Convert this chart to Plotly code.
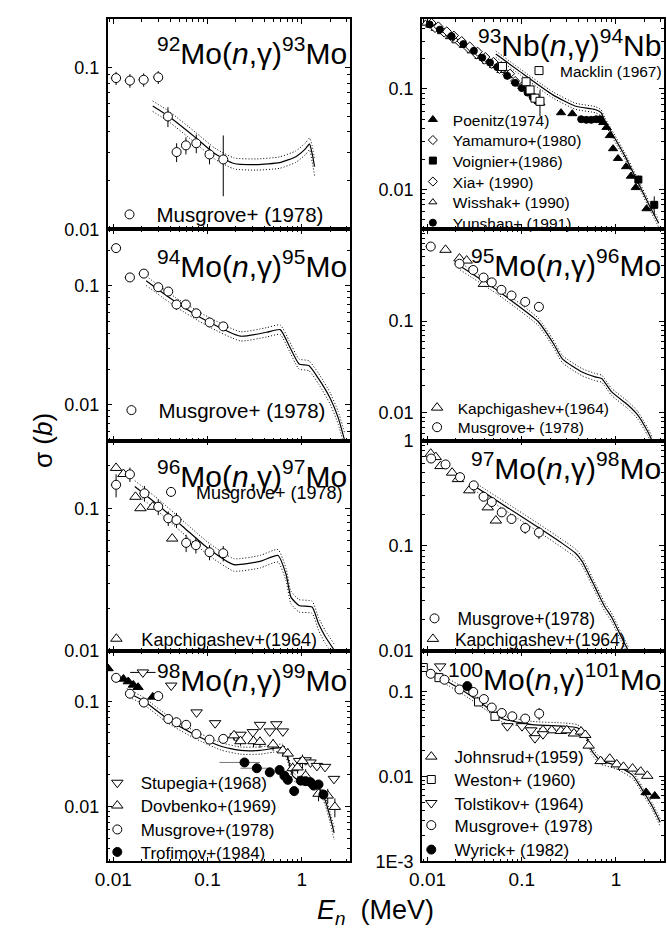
import math
import plotly.graph_objects as go

FIG_W, FIG_H = 667, 940
FONT = "Liberation Sans, Arial, Helvetica, sans-serif"

# ===================== DATA =====================
# ---- 92Mo(n,g)93Mo ----
mo92_mus_x = [0.0107, 0.015, 0.021, 0.030, 0.038, 0.047, 0.059, 0.076, 0.105, 0.147]
mo92_mus_y = [0.086, 0.083, 0.084, 0.087, 0.0498, 0.030, 0.033, 0.034, 0.029, 0.027]
mo92_mus_ey = [0.008, 0.008, 0.008, 0.008, 0.007, 0.004, 0.004, 0.0045, 0.0038, 0.011]
mo92_mus_ex = [0.0013, 0.0018, 0.0025, 0.0035, 0, 0, 0, 0, 0, 0]
mo92_calc_x = [0.0262, 0.0383, 0.0736, 0.119, 0.191, 0.333, 0.582, 0.867, 1.10, 1.21, 1.29, 1.37]
mo92_calc_y = [0.0578, 0.0501, 0.0371, 0.0294, 0.0255, 0.0251, 0.0258, 0.0281, 0.0315, 0.0337, 0.0294, 0.0244]
mo92_calc_hi = [0.062, 0.054, 0.040, 0.0318, 0.0276, 0.0272, 0.0280, 0.0305, 0.0342, 0.0366, 0.0330, 0.0270]
mo92_calc_lo = [0.0535, 0.0465, 0.0343, 0.0272, 0.0236, 0.0232, 0.0238, 0.0259, 0.0290, 0.0310, 0.0262, 0.0215]

# ---- 94Mo(n,g)95Mo ----
mo94_mus_x = [0.0107, 0.015, 0.0211, 0.030, 0.0383, 0.0468, 0.0589, 0.076, 0.1054, 0.147]
mo94_mus_y = [0.208, 0.118, 0.127, 0.0976, 0.0898, 0.0698, 0.0698, 0.0589, 0.0493, 0.0457]
mo94_mus_ey = [0.017, 0.010, 0.010, 0.008, 0.007, 0.007, 0.006, 0.005, 0.004, 0.004]
mo94_mus_ex = [0.0013, 0.0018, 0.0025, 0.0035, 0, 0, 0, 0, 0, 0]
mo94_calc_x = [0.0223, 0.0457, 0.101, 0.224, 0.424, 0.591, 0.738, 0.937, 1.19, 1.51, 2.0, 2.44, 2.86]
mo94_calc_y = [0.1106, 0.0734, 0.0502, 0.0378, 0.0408, 0.0429, 0.0313, 0.0221, 0.0214, 0.0166, 0.0114, 0.0078, 0.005]
mo94_calc_hi = [0.121, 0.080, 0.055, 0.0412, 0.0446, 0.0470, 0.0345, 0.0243, 0.0235, 0.0184, 0.0127, 0.0088, 0.0058]
mo94_calc_lo = [0.101, 0.067, 0.0458, 0.0345, 0.0372, 0.0391, 0.0284, 0.0200, 0.0194, 0.0150, 0.0102, 0.0069, 0.0044]

# ---- 96Mo(n,g)97Mo ----
mo96_mus_x = [0.0107, 0.015, 0.0214, 0.030, 0.0383, 0.0468, 0.0593, 0.0753, 0.105, 0.147]
mo96_mus_y = [0.147, 0.174, 0.128, 0.103, 0.0855, 0.0832, 0.0575, 0.0554, 0.0494, 0.0486]
mo96_mus_ey = [0.027, 0.020, 0.016, 0.013, 0.010, 0.010, 0.008, 0.007, 0.006, 0.006]
mo96_mus_ex = [0.0013, 0.0018, 0.0025, 0.0035, 0, 0, 0, 0, 0, 0]
mo96_kap_x = [0.0107, 0.0128, 0.0172, 0.0194, 0.0262, 0.0422]
mo96_kap_y = [0.193, 0.175, 0.121, 0.1006, 0.103, 0.0616]
mo96_calc_x = [0.0169, 0.0307, 0.058, 0.101, 0.191, 0.361, 0.56, 0.683, 0.769, 0.938, 1.29, 1.51, 1.77, 2.25]
mo96_calc_y = [0.143, 0.1044, 0.0723, 0.0527, 0.0404, 0.0426, 0.0469, 0.0345, 0.0239, 0.0209, 0.0204, 0.0156, 0.0127, 0.0100]
mo96_calc_hi = [0.157, 0.115, 0.0795, 0.058, 0.0445, 0.0469, 0.0516, 0.038, 0.0263, 0.023, 0.0224, 0.0172, 0.014, 0.011]
mo96_calc_lo = [0.129, 0.094, 0.065, 0.0474, 0.0364, 0.0383, 0.0422, 0.031, 0.0215, 0.0188, 0.0184, 0.014, 0.0114, 0.009]

# ---- 98Mo(n,g)99Mo ----
mo98_mus_x = [0.0107, 0.015, 0.0211, 0.030, 0.0383, 0.0468, 0.0593, 0.0762, 0.105, 0.147]
mo98_mus_y = [0.167, 0.118, 0.0972, 0.112, 0.0679, 0.0632, 0.0597, 0.0489, 0.0432, 0.0439]
mo98_mus_ey = [0.012, 0.009, 0.009, 0.008, 0.006, 0.005, 0.005, 0.004, 0.004, 0.004]
mo98_tri_x = [0.0088, 0.0128, 0.0144, 0.0163, 0.0183, 0.0262]
mo98_tri_y = [0.205, 0.163, 0.154, 0.143, 0.136, 0.110]
mo98_stu_x = [0.0206, 0.0412, 0.0766, 0.1205, 0.199, 0.224, 0.303, 0.361, 0.458, 0.538, 0.631,
              0.938, 1.10, 1.24, 1.45, 1.77, 2.2]
mo98_stu_y = [0.188, 0.141, 0.0784, 0.0619, 0.0464, 0.0481, 0.0509, 0.0597, 0.0517, 0.0605, 0.0517,
              0.0271, 0.0275, 0.0262, 0.0243, 0.0238, 0.0183]
mo98_stu_exp = [0.0075, 0.005, 0, 0, 0, 0, 0, 0, 0, 0, 0, 0, 0, 0, 0, 0, 0]
mo98_stu_exm = [0.0055, 0.004, 0, 0, 0, 0, 0, 0, 0, 0, 0, 0, 0, 0, 0, 0, 0]
mo98_dov_x = [0.191, 0.224, 0.308, 0.361, 0.497, 0.631, 0.711, 0.802, 0.904, 1.02, 1.10, 1.51, 1.89, 2.25]
mo98_dov_y = [0.0474, 0.0417, 0.0417, 0.0411, 0.0388, 0.0341, 0.0318, 0.0231, 0.0235, 0.0271, 0.0196,
              0.0132, 0.0127, 0.0099]
mo98_dov_ey = [0.005, 0.004, 0.005, 0.005, 0.005, 0.004, 0.004, 0.003, 0.003, 0.004, 0.003, 0.002, 0.002, 0.002]
mo98_tro_x = [0.247, 0.334, 0.458, 0.582, 0.655, 0.711, 0.832, 0.977, 1.10, 1.24, 1.34, 1.51, 1.70]
mo98_tro_y = [0.0262, 0.0231, 0.0211, 0.0222, 0.0196, 0.0179, 0.0140, 0.0176, 0.0174, 0.0170, 0.0158, 0.0162, 0.0130]
mo98_tro_exp = [0.114, 0.142, 0, 0, 0, 0, 0, 0, 0, 0, 0, 0, 0]
mo98_tro_exm = [0.113, 0.110, 0, 0, 0, 0, 0, 0, 0, 0, 0, 0, 0]
mo98_calc_x = [0.0139, 0.0206, 0.039, 0.0736, 0.139, 0.224, 0.361, 0.497, 0.631, 0.711, 0.802, 0.938,
               1.19, 1.51, 1.77, 2.0, 2.21]
mo98_calc_y = [0.122, 0.102, 0.0664, 0.0481, 0.0374, 0.0341, 0.0341, 0.0356, 0.0361, 0.0291, 0.0196, 0.0176,
               0.0174, 0.0153, 0.0115, 0.0080, 0.0056]
mo98_calc_hi = [0.132, 0.110, 0.0717, 0.052, 0.0404, 0.0368, 0.0368, 0.0384, 0.039, 0.0316, 0.0213, 0.019,
                0.0188, 0.0166, 0.0126, 0.0089, 0.0064]
mo98_calc_lo = [0.112, 0.094, 0.061, 0.0443, 0.0344, 0.0314, 0.0314, 0.0328, 0.0332, 0.0267, 0.018, 0.0162,
                0.016, 0.014, 0.0104, 0.0071, 0.0048]

# ---- 93Nb(n,g)94Nb ----
nb_mac_x = [0.0624, 0.111, 0.1225, 0.138, 0.156]
nb_mac_y = [0.1675, 0.118, 0.0978, 0.081, 0.0753]
nb_mac_ey = [0.012, 0.010, 0.010, 0.010, 0.022]
nb_poe_x = [0.261, 0.344, 0.733, 0.794, 0.861, 0.931, 1.05, 1.28, 1.44, 1.62, 2.11]
nb_poe_y = [0.058, 0.0567, 0.0463, 0.0414, 0.0343, 0.0254, 0.0203, 0.0168, 0.0135, 0.0104, 0.0064]
nb_yam_x = [0.011, 0.013, 0.016, 0.019, 0.023, 0.028, 0.034, 0.041, 0.05, 0.06, 0.075]
nb_yam_y = [0.455, 0.42, 0.375, 0.34, 0.30, 0.265, 0.235, 0.208, 0.186, 0.166, 0.142]
nb_voi_x = [1.73, 2.55]
nb_voi_y = [0.0125, 0.0070]
nb_voi_ey = [0.0012, 0.0015]
nb_xia_x = [0.012, 0.015, 0.018, 0.022, 0.027, 0.033, 0.04, 0.048, 0.058, 0.07, 0.085, 0.1]
nb_xia_y = [0.405, 0.365, 0.33, 0.29, 0.255, 0.222, 0.196, 0.178, 0.158, 0.139, 0.12, 0.106]
nb_wis_x = [0.0095, 0.0105, 0.012, 0.014, 0.017, 0.02, 0.024, 0.029, 0.035, 0.042, 0.05, 0.06, 0.072,
            0.085, 0.1, 0.12, 0.14, 0.16]
nb_wis_y = [0.45, 0.43, 0.40, 0.37, 0.33, 0.30, 0.27, 0.238, 0.21, 0.188, 0.17, 0.152, 0.135, 0.118,
            0.105, 0.091, 0.080, 0.072]
nb_yun_x = [0.0105, 0.0135, 0.018, 0.024, 0.031, 0.038, 0.046, 0.055, 0.07, 0.085, 0.1, 0.115, 0.13, 0.145,
            0.427, 0.485, 0.547, 0.616, 0.678]
nb_yun_y = [0.44, 0.39, 0.335, 0.28, 0.24, 0.205, 0.183, 0.165, 0.135, 0.115, 0.102, 0.092, 0.083, 0.076,
            0.0499, 0.0492, 0.0492, 0.0499, 0.0499]
nb_calc_x = [0.053, 0.0964, 0.214, 0.373, 0.601, 0.694, 0.763, 0.894, 1.23, 1.69, 2.32, 2.84]
nb_calc_y = [0.223, 0.148, 0.0873, 0.0673, 0.0624, 0.058, 0.048, 0.037, 0.0219, 0.012, 0.0066, 0.0046]
nb_calc_hi = [0.239, 0.158, 0.0935, 0.072, 0.0668, 0.0621, 0.0515, 0.0397, 0.0235, 0.0129, 0.0071, 0.0050]
nb_calc_lo = [0.207, 0.138, 0.0812, 0.0626, 0.058, 0.054, 0.0446, 0.0344, 0.0204, 0.0112, 0.0061, 0.0042]

# ---- 95Mo(n,g)96Mo ----
mo95_mus_x = [0.0108, 0.0218, 0.0305, 0.0393, 0.048, 0.0608, 0.0778, 0.1087, 0.152]
mo95_mus_y = [0.648, 0.421, 0.36, 0.298, 0.264, 0.219, 0.19, 0.162, 0.143]
mo95_mus_ey = [0.04, 0.03, 0.025, 0.02, 0.018, 0.015, 0.013, 0.012, 0.012]
mo95_mus_ex = [0.0013, 0.0025, 0, 0, 0, 0, 0, 0, 0]
mo95_kap_x = [0.0155, 0.0218, 0.026, 0.0396]
mo95_kap_y = [0.597, 0.48, 0.456, 0.254]
mo95_calc_x = [0.0221, 0.0552, 0.149, 0.214, 0.271, 0.437, 0.601, 0.705, 0.894, 1.33, 1.69, 2.15, 2.42]
mo95_calc_y = [0.397, 0.215, 0.099, 0.0582, 0.0386, 0.0279, 0.0247, 0.0237, 0.0171, 0.0123, 0.0096, 0.0064, 0.005]
mo95_calc_hi = [0.433, 0.234, 0.108, 0.0634, 0.0421, 0.0304, 0.0269, 0.0258, 0.0186, 0.0134, 0.0105, 0.0070, 0.0055]
mo95_calc_lo = [0.361, 0.196, 0.090, 0.053, 0.0351, 0.0254, 0.0225, 0.0216, 0.0156, 0.0112, 0.0087, 0.0058, 0.0046]

# ---- 97Mo(n,g)98Mo ----
mo97_mus_x = [0.0109, 0.0155, 0.0221, 0.0309, 0.0393, 0.048, 0.0613, 0.0778, 0.1087, 0.152]
mo97_mus_y = [0.676, 0.594, 0.45, 0.376, 0.293, 0.261, 0.208, 0.18, 0.148, 0.134]
mo97_mus_ey = [0.05, 0.04, 0.035, 0.03, 0.025, 0.022, 0.02, 0.018, 0.018, 0.018]
mo97_kap_x = [0.0108, 0.0122, 0.0137, 0.0182, 0.021, 0.0277, 0.0435, 0.0531]
mo97_kap_y = [0.751, 0.698, 0.573, 0.496, 0.431, 0.337, 0.232, 0.174]
mo97_calc_x = [0.0316, 0.156, 0.271, 0.373, 0.437, 0.601, 0.763, 0.894, 1.13, 1.36]
mo97_calc_y = [0.368, 0.146, 0.105, 0.0851, 0.0713, 0.0403, 0.0262, 0.0212, 0.0138, 0.0100]
mo97_calc_hi = [0.40, 0.159, 0.114, 0.093, 0.078, 0.044, 0.0286, 0.0231, 0.015, 0.0109]
mo97_calc_lo = [0.335, 0.133, 0.0955, 0.0775, 0.065, 0.0367, 0.0238, 0.0193, 0.0126, 0.0091]

# ---- 100Mo(n,g)101Mo ----
mo100_mus_x = [0.0108, 0.0151, 0.0218, 0.0305, 0.0396, 0.048, 0.0613, 0.0793, 0.1087, 0.153]
mo100_mus_y = [0.162, 0.138, 0.106, 0.099, 0.0817, 0.0649, 0.056, 0.0512, 0.0481, 0.055]
mo100_mus_ey = [0.012, 0.010, 0.009, 0.010, 0.008, 0.006, 0.005, 0.005, 0.005, 0.009]
mo100_wes_x = [0.009, 0.0132, 0.0347, 0.0519]
mo100_wes_y = [0.192, 0.146, 0.0755, 0.0511]
mo100_tol_x = [0.0136, 0.0703, 0.1005, 0.1254, 0.138, 0.168]
mo100_tol_y = [0.198, 0.0392, 0.0392, 0.035, 0.0283, 0.0315]
mo100_wyr_x = [0.0264]
mo100_wyr_y = [0.116]
mo100_joh_x = [0.168, 0.208, 0.26, 0.301, 0.358, 0.426, 0.472, 0.513, 0.687, 0.859, 1.02, 1.20, 1.50, 1.83, 2.15]
mo100_joh_y = [0.035, 0.035, 0.0344, 0.035, 0.0321, 0.0338, 0.0309, 0.0231, 0.0152, 0.0162, 0.0139, 0.013,
               0.0124, 0.0114, 0.0102]
mo100_tri_x = [2.09, 2.58]
mo100_tri_y = [0.0065, 0.0059]
mo100_calc_x = [0.0108, 0.0221, 0.0419, 0.0624, 0.128, 0.283, 0.388, 0.472, 0.554, 0.677, 1.01, 1.5, 1.9, 2.42, 2.95]
mo100_calc_y = [0.168, 0.108, 0.0665, 0.048, 0.0409, 0.0392, 0.0375, 0.0314, 0.0201, 0.0155, 0.0135, 0.0104,
                0.0070, 0.0045, 0.0029]
mo100_calc_hi = [0.183, 0.118, 0.0725, 0.0523, 0.0446, 0.0427, 0.0409, 0.0342, 0.0219, 0.0169, 0.0147, 0.0113,
                 0.0076, 0.0049, 0.0032]
mo100_calc_lo = [0.153, 0.098, 0.0605, 0.0437, 0.0372, 0.0357, 0.0341, 0.0286, 0.0183, 0.0141, 0.0123, 0.0095,
                 0.0064, 0.0041, 0.0026]

# panel titles
titles = {
    1: "<sup>92</sup>Mo(<i>n</i>,γ)<sup>93</sup>Mo",
    2: "<sup>94</sup>Mo(<i>n</i>,γ)<sup>95</sup>Mo",
    3: "<sup>96</sup>Mo(<i>n</i>,γ)<sup>97</sup>Mo",
    4: "<sup>98</sup>Mo(<i>n</i>,γ)<sup>99</sup>Mo",
    5: "<sup>93</sup>Nb(<i>n</i>,γ)<sup>94</sup>Nb",
    6: "<sup>95</sup>Mo(<i>n</i>,γ)<sup>96</sup>Mo",
    7: "<sup>97</sup>Mo(<i>n</i>,γ)<sup>98</sup>Mo",
    8: "<sup>100</sup>Mo(<i>n</i>,γ)<sup>101</sup>Mo",
}

# ===================== LAYOUT GEOMETRY (pixels) =====================
cols = {"L": (97, 345), "R": (419, 667)}
rows = [(9, 224), (224, 440), (440, 655), (655, 870)]
panels = {
    1: dict(col="L", row=0, yr=(0.01, 0.2), yt=[0.01, 0.1], ytt=["0.01", "0.1"], ty=42),
    2: dict(col="L", row=1, yr=(0.005, 0.3), yt=[0.01, 0.1], ytt=["0.01", "0.1"], ty=260),
    3: dict(col="L", row=2, yr=(0.01, 0.3), yt=[0.01, 0.1], ytt=["0.01", "0.1"], ty=474),
    4: dict(col="L", row=3, yr=(0.003, 0.3), yt=[0.01, 0.1], ytt=["0.01", "0.1"], ty=683),
    5: dict(col="R", row=0, yr=(0.004, 0.5), yt=[0.01, 0.1], ytt=["0.01", "0.1"], ty=34),
    6: dict(col="R", row=1, yr=(0.005, 1.0), yt=[0.01, 0.1], ytt=["0.01", "0.1"], ty=259),
    7: dict(col="R", row=2, yr=(0.01, 1.0), yt=[0.01, 0.1, 1], ytt=["0.01", "0.1", "1"], ty=466),
    8: dict(col="R", row=3, yr=(0.001, 0.3), yt=[0.001, 0.01, 0.1], ytt=["1E-3", "0.01", "0.1"], ty=682),
}
XR = [-2.06, 0.51]

fig = go.Figure()
legend_layouts = {}
leg_counter = [0]


def sfx(i):
    return "" if i == 1 else str(i)


def new_legend(sym_x, sym_y, fs, gap):
    leg_counter[0] += 1
    key = "legend" if leg_counter[0] == 1 else "legend%d" % leg_counter[0]
    iw = max(30, 2 * (gap - 5))
    lx = sym_x - (iw / 2 + 5) - 2
    legend_layouts[key] = dict(
        x=lx / FIG_W, y=1 - sym_y / FIG_H, xanchor="left", yanchor="middle",
        bgcolor="rgba(0,0,0,0)", borderwidth=0, itemwidth=iw,
        font=dict(family=FONT, size=fs, color="black"),
        itemclick=False, itemdoubleclick=False,
    )
    return key


def add_curves(i, x, y, hi, lo):
    for yy, dash, w in ((hi, "1px,2px", 1), (lo, "1px,2px", 1), (y, "solid", 1.2)):
        fig.add_trace(go.Scatter(
            x=x, y=yy, mode="lines", xaxis="x" + sfx(i), yaxis="y" + sfx(i),
            line=dict(color="black", width=w, dash=dash, shape="spline", smoothing=0.5),
            showlegend=False, hoverinfo="skip"))


def add_pts(i, x, y, symbol, size=9, filled=False, ey=None, ex=None, exm=None,
            ex_color="black", name=None, leg=None):
    tr = dict(
        x=x, y=y, mode="markers", xaxis="x" + sfx(i), yaxis="y" + sfx(i),
        marker=dict(symbol=symbol, size=size, color="black" if filled else "white",
                    line=dict(color="black", width=1)),
        name=name if name else "", showlegend=leg is not None, hoverinfo="skip")
    if leg is not None:
        tr["legend"] = new_legend(*leg)
    if ey is not None:
        tr["error_y"] = dict(type="data", array=ey, color="black", thickness=1, width=0)
    if ex is not None:
        tr["error_x"] = dict(type="data", array=ex, arrayminus=exm if exm is not None else ex,
                             color=ex_color, thickness=1, width=0)
    fig.add_trace(go.Scatter(**tr))


# ---- panel 1: 92Mo ----
add_curves(1, mo92_calc_x, mo92_calc_y, mo92_calc_hi, mo92_calc_lo)
add_pts(1, mo92_mus_x, mo92_mus_y, "circle", 9, ey=mo92_mus_ey, ex=mo92_mus_ex,
        name="Musgrove+ (1978)", leg=(120.7, 209, 20.5, 27))

# ---- panel 2: 94Mo ----
add_curves(2, mo94_calc_x, mo94_calc_y, mo94_calc_hi, mo94_calc_lo)
add_pts(2, mo94_mus_x, mo94_mus_y, "circle", 9, ey=mo94_mus_ey, ex=mo94_mus_ex,
        name="Musgrove+ (1978)", leg=(122.7, 409, 20.5, 27))

# ---- panel 3: 96Mo ----
add_curves(3, mo96_calc_x, mo96_calc_y, mo96_calc_hi, mo96_calc_lo)
add_pts(3, mo96_kap_x, mo96_kap_y, "triangle-up", 10,
        name="Kapchigashev+(1964)", leg=(107.3, 642.7, 18, 25))
add_pts(3, mo96_mus_x, mo96_mus_y, "circle", 9, ey=mo96_mus_ey, ex=mo96_mus_ex,
        name="Musgrove+ (1978)", leg=(163.3, 492.7, 18, 25))

# ---- panel 4: 98Mo ----
add_curves(4, mo98_calc_x, mo98_calc_y, mo98_calc_hi, mo98_calc_lo)
add_pts(4, mo98_tri_x, mo98_tri_y, "triangle-up", 9, filled=True)
add_pts(4, mo98_stu_x, mo98_stu_y, "triangle-down", 10, ex=mo98_stu_exp, exm=mo98_stu_exm,
        name="Stupegia+(1968)", leg=(108.3, 790, 17, 23.4))
add_pts(4, mo98_dov_x, mo98_dov_y, "triangle-up", 10, ey=mo98_dov_ey,
        name="Dovbenko+(1969)", leg=(108.3, 813.3, 17, 23.4))
add_pts(4, mo98_mus_x, mo98_mus_y, "circle", 9, ey=mo98_mus_ey,
        name="Musgrove+(1978)", leg=(108.3, 837.7, 17, 23.4))
add_pts(4, mo98_tro_x, mo98_tro_y, "circle", 9, filled=True, ex=mo98_tro_exp, exm=mo98_tro_exm,
        ex_color="#777777", name="Trofimov+(1984)", leg=(108.3, 860.7, 17, 23.4))

# ---- panel 5: 93Nb ----
add_curves(5, nb_calc_x, nb_calc_y, nb_calc_hi, nb_calc_lo)
add_pts(5, nb_wis_x, nb_wis_y, "triangle-up", 7,
        name="Wisshak+ (1990)", leg=(431.7, 196.7, 15.5, 20))
add_pts(5, nb_xia_x, nb_xia_y, "diamond", 7,
        name="Xia+ (1990)", leg=(431.7, 175.7, 15.5, 20))
add_pts(5, nb_yam_x, nb_yam_y, "diamond", 7,
        name="Yamamuro+(1980)", leg=(431.7, 133.3, 15.5, 20))
add_pts(5, nb_yun_x, nb_yun_y, "circle", 7, filled=True,
        name="Yunshan+ (1991)", leg=(431.7, 217.7, 15.5, 20))
add_pts(5, nb_poe_x, nb_poe_y, "triangle-up", 8, filled=True,
        name="Poenitz(1974)", leg=(431.7, 112.3, 15.5, 20))
add_pts(5, nb_voi_x, nb_voi_y, "square", 7, filled=True, ey=nb_voi_ey,
        name="Voignier+(1986)", leg=(431.7, 154.3, 15.5, 20))
add_pts(5, nb_mac_x, nb_mac_y, "square", 8, ey=nb_mac_ey,
        name="Macklin (1967)", leg=(540.7, 62.3, 15.5, 21))

# ---- panel 6: 95Mo ----
add_curves(6, mo95_calc_x, mo95_calc_y, mo95_calc_hi, mo95_calc_lo)
add_pts(6, mo95_kap_x, mo95_kap_y, "triangle-up", 10,
        name="Kapchigashev+(1964)", leg=(436, 406.7, 15.5, 20.7))
add_pts(6, mo95_mus_x, mo95_mus_y, "circle", 9, ey=mo95_mus_ey, ex=mo95_mus_ex,
        name="Musgrove+ (1978)", leg=(436, 426.7, 15.5, 20.7))

# ---- panel 7: 97Mo ----
add_curves(7, mo97_calc_x, mo97_calc_y, mo97_calc_hi, mo97_calc_lo)
add_pts(7, mo97_kap_x, mo97_kap_y, "triangle-up", 10,
        name="Kapchigashev+(1964)", leg=(431.7, 642.7, 17.5, 22))
add_pts(7, mo97_mus_x, mo97_mus_y, "circle", 9, ey=mo97_mus_ey,
        name="Musgrove+(1978)", leg=(433.3, 621.7, 17.5, 23))

# ---- panel 8: 100Mo ----
add_curves(8, mo100_calc_x, mo100_calc_y, mo100_calc_hi, mo100_calc_lo)
add_pts(8, mo100_joh_x, mo100_joh_y, "triangle-up", 10,
        name="Johnsrud+(1959)", leg=(430, 763.3, 17, 23.3))
add_pts(8, mo100_wes_x, mo100_wes_y, "square", 8,
        name="Weston+ (1960)", leg=(430, 786.7, 17, 23.3))
add_pts(8, mo100_tol_x, mo100_tol_y, "triangle-down", 10,
        name="Tolstikov+ (1964)", leg=(430, 810.7, 17, 23.3))
add_pts(8, mo100_mus_x, mo100_mus_y, "circle", 9, ey=mo100_mus_ey,
        name="Musgrove+ (1978)", leg=(430, 833.3, 17, 23.3))
add_pts(8, mo100_wyr_x, mo100_wyr_y, "circle", 9, filled=True,
        name="Wyrick+ (1982)", leg=(430, 858.3, 17, 23.3))
add_pts(8, mo100_tri_x, mo100_tri_y, "triangle-up", 9, filled=True)

# ===================== AXES =====================
minor_vals = [k * 10.0 ** e for e in range(-4, 1) for k in range(2, 10)]
layout = {}
annotations = []
for i, p in panels.items():
    s = sfx(i)
    x0, x1 = cols[p["col"]]
    y0, y1 = rows[p["row"]]
    common = dict(type="log", showline=True, linecolor="black", linewidth=1.5, mirror="ticks",
                  ticks="inside", ticklen=5, tickwidth=1, tickcolor="black", showgrid=False,
                  zeroline=False, tickmode="array",
                  minor=dict(tickmode="array", tickvals=minor_vals, ticks="inside", ticklen=3,
                             tickwidth=1, tickcolor="black", showgrid=False))
    layout["xaxis" + s] = dict(
        common, range=XR, domain=[x0 / FIG_W, x1 / FIG_W], anchor="y" + s,
        tickvals=[0.01, 0.1, 1], ticktext=["0.01", "0.1", "1"],
        showticklabels=(p["row"] == 3),
        tickfont=dict(family=FONT, size=19, color="black"))
    layout["yaxis" + s] = dict(
        common, range=[math.log10(p["yr"][0]), math.log10(p["yr"][1])],
        domain=[1 - y1 / FIG_H, 1 - y0 / FIG_H], anchor="x" + s,
        tickvals=p["yt"], ticktext=p["ytt"], ticklabelstandoff=3,
        tickfont=dict(family=FONT, size=18, color="black"))
    annotations.append(dict(
        text=titles[i], xref="paper", yref="paper", x=(x1 - 1) / FIG_W, y=1 - p["ty"] / FIG_H,
        xanchor="right", yanchor="middle", showarrow=False,
        font=dict(family=FONT, size=30, color="black")))

annotations.append(dict(
    text="σ (<i>b</i>)", xref="paper", yref="paper", x=30 / FIG_W, y=1 - 440 / FIG_H,
    xanchor="center", yanchor="middle", textangle=-90, showarrow=False,
    font=dict(family=FONT, size=26, color="black")))
annotations.append(dict(
    text="<i>E</i><sub><i>n</i></sub>  (MeV)", xref="paper", yref="paper", x=371 / FIG_W,
    y=1 - 922 / FIG_H, xanchor="center", yanchor="middle", showarrow=False,
    font=dict(family=FONT, size=27, color="black")))

layout.update(legend_layouts)
fig.update_layout(
    width=FIG_W, height=FIG_H, margin=dict(l=0, r=0, t=0, b=0),
    paper_bgcolor="white", plot_bgcolor="white",
    font=dict(family=FONT, color="black"),
    annotations=annotations, hovermode=False, **layout)

fig.write_html("out.html")
